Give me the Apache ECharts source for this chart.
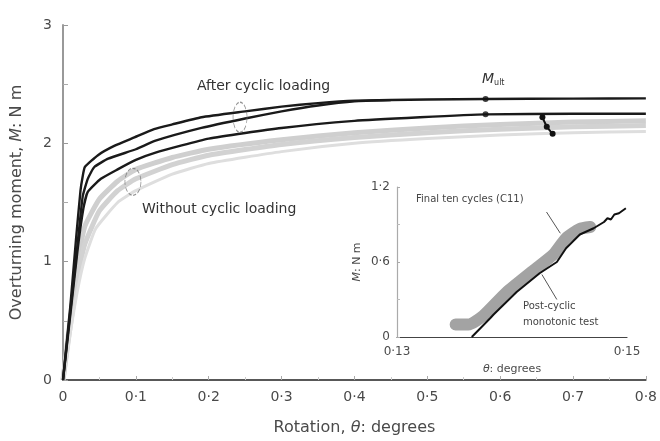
<!DOCTYPE html>
<html><head><meta charset="utf-8">
<script src="https://cdn.jsdelivr.net/npm/echarts@6/dist/echarts.min.js"></script>
<style>html,body{margin:0;padding:0;background:#fff}#c{width:660px;height:441px}</style>
</head><body><div id="c"></div>
<script>
// ---- Main chart data: rotation (deg), moment (N m)
const afterTop = [[0,0],[0.01,0.62],[0.018,1.2],[0.024,1.6],[0.027,1.72],[0.03,1.8],[0.048,1.9],[0.071,1.98],[0.098,2.05],[0.125,2.12],[0.15,2.16],[0.19,2.22],[0.25,2.27],[0.3,2.31],[0.35,2.34],[0.4,2.36],[0.5,2.37],[0.58,2.375],[0.7,2.378],[0.8,2.38]];
const afterMid = [[0,0],[0.01,0.58],[0.02,1.15],[0.027,1.55],[0.034,1.7],[0.043,1.8],[0.062,1.87],[0.1,1.95],[0.126,2.02],[0.19,2.13],[0.25,2.21],[0.3,2.27],[0.35,2.32],[0.4,2.355],[0.45,2.365]];
const afterLow = [[0,0],[0.01,0.55],[0.02,1.1],[0.028,1.45],[0.034,1.59],[0.052,1.7],[0.075,1.78],[0.1,1.86],[0.126,1.92],[0.2,2.04],[0.3,2.13],[0.4,2.19],[0.49,2.22],[0.58,2.245],[0.7,2.25],[0.8,2.25]];
const noCycUpper = [[0,0],[0.01,0.52],[0.02,0.98],[0.03,1.3],[0.05,1.53],[0.075,1.68],[0.1,1.78],[0.15,1.88],[0.2,1.95],[0.3,2.03],[0.4,2.09],[0.5,2.13],[0.6,2.16],[0.7,2.18],[0.8,2.19]];
const noCycMid = [[0,0],[0.01,0.46],[0.02,0.86],[0.03,1.15],[0.05,1.43],[0.075,1.6],[0.1,1.7],[0.15,1.82],[0.2,1.9],[0.3,1.99],[0.4,2.05],[0.5,2.09],[0.6,2.12],[0.7,2.14],[0.8,2.15]];
const noCycLower = [[0,0],[0.01,0.4],[0.02,0.76],[0.03,1.03],[0.045,1.28],[0.075,1.5],[0.1,1.6],[0.15,1.74],[0.2,1.83],[0.3,1.93],[0.4,2.0],[0.5,2.04],[0.6,2.07],[0.7,2.09],[0.8,2.1]];
const ultPoints = [[0.58,2.375],[0.58,2.245]];
const failPoints = [[0.658,2.22],[0.664,2.14],[0.672,2.08]];
const ellipseAfter = [[0.243,2.22]];
const ellipseWithout = [[0.096,1.675]];
const xTicks = [0,0.1,0.2,0.3,0.4,0.5,0.6,0.7,0.8];
const yTicks = [0,1,2,3];
// ---- Inset data
const c11Band = [[0.1351,0.1],[0.1362,0.1],[0.1375,0.17],[0.1395,0.355],[0.1419,0.535],[0.1436,0.66],[0.1447,0.79],[0.1459,0.865],[0.1468,0.88]];
const postCyclic = [[0.1365,0],[0.1381,0.15],[0.1384,0.18],[0.1404,0.36],[0.1424,0.51],[0.1439,0.6],[0.1447,0.71],[0.1459,0.82],[0.1471,0.87],[0.148,0.92],[0.1483,0.95],[0.1486,0.94],[0.1489,0.98],[0.1493,0.99],[0.1499,1.03]];
const leaderC11 = [[0.1430,1.0],[0.1442,0.83]];
const leaderPost = [[0.1426,0.5],[0.1439,0.3]];
const insetXTicks = [0.13,0.15];
const insetYTicks = [0,0.6,1.2];

const fmt = v => String(+(+v).toFixed(2)).replace('.', '\u00b7');
const FONT = 'DejaVu Sans';
const TXT = '#4a4a4a';
const chart = echarts.init(document.getElementById('c'));
const blackLine = (d) => ({type:'line', data:d, xAxisIndex:0, yAxisIndex:0, symbol:'none', smooth:0.15, lineStyle:{color:'#1a1a1a', width:2.4}, z:5, silent:true});
const greyLine = (d, c, w) => ({type:'line', data:d, xAxisIndex:0, yAxisIndex:0, symbol:'none', smooth:0.15, lineStyle:{color:c, width:w}, z:3, silent:true});
chart.setOption({
  animation:false,
  textStyle:{fontFamily:FONT},
  grid:[
    {left:63, top:25, width:584, height:359},
    {left:397, top:187, width:230, height:150}
  ],
  xAxis:[
    {type:'value', gridIndex:0, min:0, max:0.8, interval:0.1,
     axisLine:{lineStyle:{color:'#222', width:1.5}},
     axisTick:{inside:true, length:4, lineStyle:{color:'#aaa'}},
     minorTick:{show:true, splitNumber:2, length:3, lineStyle:{color:'#ccc'}},
     splitLine:{show:false},
     axisLabel:{formatter:fmt, color:TXT, fontSize:14, margin:10, fontFamily:FONT},
     name:'Rotation, {i|\u03b8}: degrees', nameLocation:'middle', nameGap:40,
     nameTextStyle:{color:TXT, fontSize:16, fontFamily:FONT, rich:{i:{fontStyle:'italic', color:TXT, fontSize:16, fontFamily:FONT}}}},
    {type:'value', gridIndex:1, min:0.13, max:0.15, interval:0.01,
     axisLine:{onZero:false, lineStyle:{color:'#444', width:1.2}},
     axisTick:{show:false},
     splitLine:{show:false},
     axisLabel:{customValues:insetXTicks, formatter:fmt, color:TXT, fontSize:12, margin:9, fontFamily:FONT},
     name:'{i|\u03b8}: degrees', nameLocation:'middle', nameGap:27,
     nameTextStyle:{color:TXT, fontSize:11, fontFamily:FONT, rich:{i:{fontStyle:'italic', color:TXT, fontSize:11, fontFamily:FONT}}}}
  ],
  yAxis:[
    {type:'value', gridIndex:0, min:0, max:3, interval:1,
     axisLine:{show:true, lineStyle:{color:'#999', width:2}},
     axisTick:{show:true, inside:true, length:5, lineStyle:{color:'#999'}},
     minorTick:{show:true, splitNumber:2, length:5, lineStyle:{color:'#aaa'}},
     splitLine:{show:false},
     axisLabel:{formatter:fmt, color:TXT, fontSize:14, margin:11, fontFamily:FONT},
     name:'Overturning moment, {i|M}: N m', nameLocation:'middle', nameGap:38,
     nameTextStyle:{color:TXT, fontSize:16, fontFamily:FONT, rich:{i:{fontStyle:'italic', color:TXT, fontSize:16, fontFamily:FONT}}}},
    {type:'value', gridIndex:1, min:0, max:1.2, interval:0.6,
     axisLine:{show:true, onZero:false, lineStyle:{color:'#aaa', width:1.2}},
     axisTick:{show:true, inside:true, length:3, lineStyle:{color:'#aaa'}},
     minorTick:{show:true, splitNumber:2, length:3, lineStyle:{color:'#bbb'}},
     splitLine:{show:false},
     axisLabel:{formatter:fmt, color:TXT, fontSize:12, margin:7, fontFamily:FONT},
     name:'{i|M}: N m', nameLocation:'middle', nameGap:34,
     nameTextStyle:{color:TXT, fontSize:11, fontFamily:FONT, rich:{i:{fontStyle:'italic', color:TXT, fontSize:11, fontFamily:FONT}}}}
  ],
  series:[
    greyLine(noCycUpper, '#cfcfcf', 5),
    greyLine(noCycMid, '#d2d2d2', 5),
    greyLine(noCycLower, '#dedede', 3),
    blackLine(afterLow),
    blackLine(afterMid),
    blackLine(afterTop),
    {type:'scatter', data:ultPoints, xAxisIndex:0, yAxisIndex:0, symbolSize:6, itemStyle:{color:'#111'}, z:6, silent:true},
    {type:'line', data:failPoints, xAxisIndex:0, yAxisIndex:0, symbol:'circle', symbolSize:6, itemStyle:{color:'#111'}, lineStyle:{color:'#111', width:2}, z:6, silent:true},
    {type:'scatter', data:ellipseAfter, xAxisIndex:0, yAxisIndex:0, symbol:'circle', symbolSize:[14,30], itemStyle:{color:'rgba(0,0,0,0)', borderColor:'#777', borderWidth:1, borderType:'dashed'}, z:7, silent:true},
    {type:'scatter', data:ellipseWithout, xAxisIndex:0, yAxisIndex:0, symbol:'circle', symbolSize:[16,27], itemStyle:{color:'rgba(0,0,0,0)', borderColor:'#777', borderWidth:1, borderType:'dashed'}, z:7, silent:true},
    // inset
    {type:'line', data:c11Band, xAxisIndex:1, yAxisIndex:1, symbol:'none', smooth:0.2, lineStyle:{color:'#a3a3a3', width:12, cap:'round', join:'round'}, z:3, silent:true},
    {type:'line', data:postCyclic, xAxisIndex:1, yAxisIndex:1, symbol:'none', lineStyle:{color:'#111', width:2}, z:5, silent:true},
    {type:'line', data:leaderC11, xAxisIndex:1, yAxisIndex:1, symbol:'none', lineStyle:{color:'#555', width:1}, z:6, silent:true},
    {type:'line', data:leaderPost, xAxisIndex:1, yAxisIndex:1, symbol:'none', lineStyle:{color:'#555', width:1}, z:6, silent:true}
  ],
  graphic:[
    {type:'text', left:197, top:79, style:{text:'After cyclic loading', fill:'#333', font:'14px "DejaVu Sans"'}},
    {type:'text', left:142, top:202, style:{text:'Without cyclic loading', fill:'#333', font:'14px "DejaVu Sans"'}},
    {type:'text', left:482, top:72, style:{text:'{m|M}{s|ult}', rich:{m:{fontStyle:'italic', fontSize:14, fill:'#333', fontFamily:FONT}, s:{fontSize:8, fill:'#333', fontFamily:FONT, verticalAlign:'bottom', padding:[7,0,0,0]}}}},
    {type:'text', left:416, top:194, style:{text:'Final ten cycles (C11)', fill:'#444', font:'10px "DejaVu Sans"'}},
    {type:'text', left:523, top:298, style:{text:'Post-cyclic\nmonotonic test', fill:'#444', font:'10px "DejaVu Sans"', lineHeight:16}}
  ]
});
</script></body></html>
